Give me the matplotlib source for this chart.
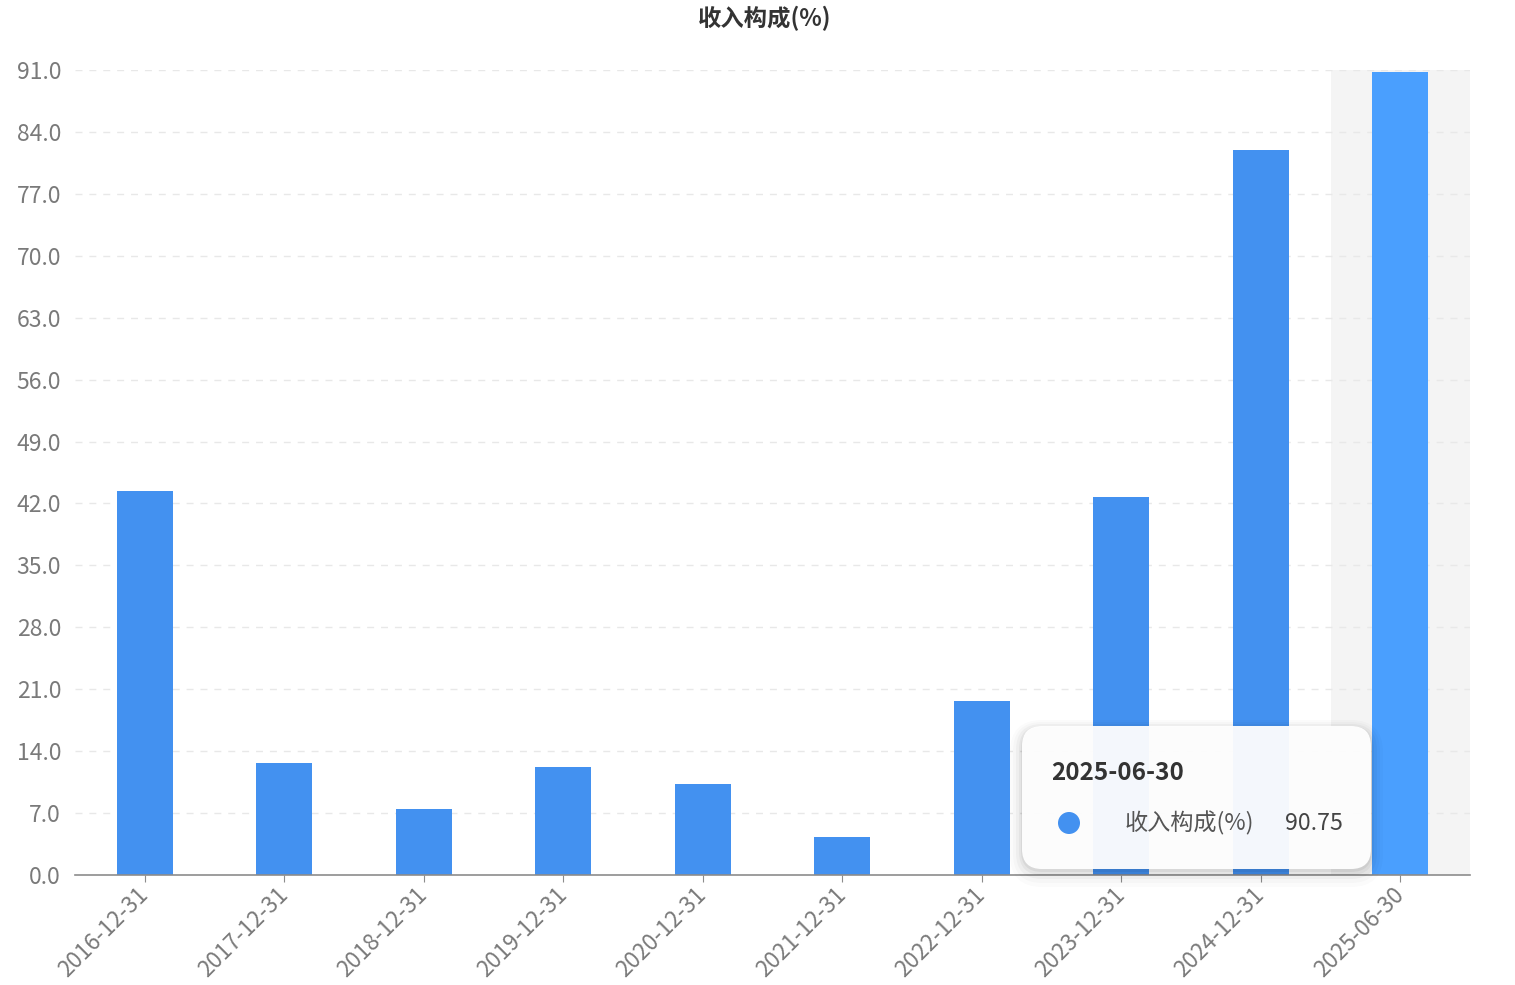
import matplotlib
matplotlib.use("Agg")
import matplotlib.pyplot as plt
from matplotlib.patches import FancyBboxPatch, Circle
import numpy as np

plt.rcParams['font.family'] = ['Noto Sans CJK SC', 'DejaVu Sans']

categories = ["2016-12-31", "2017-12-31", "2018-12-31", "2019-12-31", "2020-12-31",
              "2021-12-31", "2022-12-31", "2023-12-31", "2024-12-31", "2025-06-30"]
values = [43.4, 12.7, 7.5, 12.2, 10.3, 4.3, 19.7, 42.7, 81.9, 90.75]
yticks = [0.0, 7.0, 14.0, 21.0, 28.0, 35.0, 42.0, 49.0, 56.0, 63.0, 70.0, 77.0, 84.0, 91.0]
series_name = "收入构成(%)"
title = "收入构成(%)"
hover_index = 9

W, H = 1515, 985
fig = plt.figure(figsize=(W / 100, H / 100), dpi=100)
fig.patch.set_facecolor("white")
ax = fig.add_axes([75 / W, (H - 875) / H, 1395 / W, 805 / H])

x = np.arange(len(categories))
ax.set_xlim(-0.5, len(categories) - 0.5)
ax.set_ylim(0, 91)

# hover shadow band
ax.axvspan(hover_index - 0.5, hover_index + 0.5, color="#f4f4f4", zorder=0, lw=0)

colors = ["#4391f0"] * len(categories)
colors[hover_index] = "#4a9ffe"
ax.bar(x, values, width=0.4, color=colors, zorder=2)

ax.set_yticks(yticks)
ax.set_yticklabels([f"{v:.1f}" for v in yticks])
ax.set_xticks(x)
ax.set_xticklabels(categories, rotation=45, ha="right", va="center", rotation_mode="anchor")

for v in yticks[1:]:
    ax.axhline(v, color="#e8e8e8", lw=1, ls=(0, (5, 5)), zorder=1)

for s in ["top", "right", "left"]:
    ax.spines[s].set_visible(False)
ax.spines["bottom"].set_color("#8c8c8c")
ax.spines["bottom"].set_linewidth(1.2)
ax.tick_params(axis="y", length=0, pad=10, labelsize=16.5, labelcolor="#7a7a7a")
ax.tick_params(axis="x", length=5, color="#8c8c8c", pad=7, labelsize=16.3, labelcolor="#7a7a7a")

fig.text(765 / W, 1 - 18 / H, title, ha="center", va="center", fontsize=16.8,
         fontweight="bold", color="#333333")

# tooltip in pixel coordinates (overlay axes)
ov = fig.add_axes([0, 0, 1, 1], zorder=10)
ov.set_xlim(0, W)
ov.set_ylim(H, 0)
ov.axis("off")
ov.patch.set_alpha(0)

bx0, by0, bx1, by1 = 1022, 726, 1371, 869
for pad, dy, a in [(12, 6, 0.015), (9, 5, 0.02), (6, 4, 0.03), (3, 3, 0.04), (1, 2, 0.05)]:
    ov.add_patch(FancyBboxPatch((bx0 - pad, by0 - pad + dy), (bx1 - bx0) + 2 * pad,
                                (by1 - by0) + 2 * pad,
                                boxstyle=f"round,pad=0,rounding_size={20 + pad}",
                                facecolor="black", edgecolor="none", alpha=a))
ov.add_patch(FancyBboxPatch((bx0, by0), bx1 - bx0, by1 - by0,
                            boxstyle="round,pad=0,rounding_size=20",
                            facecolor="white", edgecolor="none", alpha=0.95))
ov.text(1051, 773, categories[hover_index], ha="left", va="center",
        fontsize=17.5, fontweight="bold", color="#333333")
ov.add_patch(Circle((1069, 823), 11, facecolor="#4391f0", edgecolor="none"))
ov.text(1125, 823, series_name, ha="left", va="center", fontsize=16.7, color="#555555")
ov.text(1343, 823, f"{values[hover_index]:.2f}", ha="right", va="center",
        fontsize=16.7, color="#444444")

fig.savefig("out.png", dpi=100, facecolor="white")
